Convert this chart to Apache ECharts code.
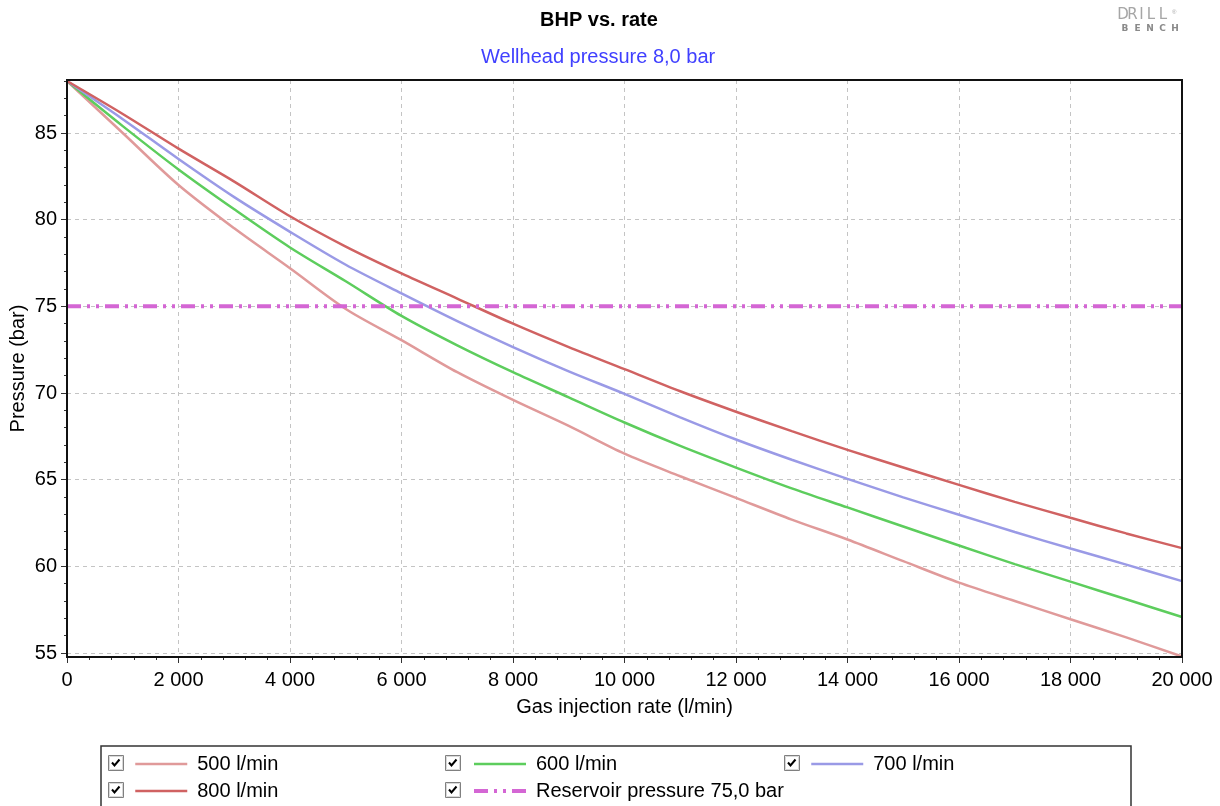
<!DOCTYPE html>
<html>
<head>
<meta charset="utf-8">
<script src="https://cdn.jsdelivr.net/npm/echarts@6/dist/echarts.min.js"></script>
<style>
html,body{margin:0;padding:0;background:#fff;}
#chart{width:1220px;height:806px;}
</style>
</head>
<body>
<div id="chart"></div>
<script>
// ---- data ----
const rates = [0,1000,2000,3000,4000,5000,6000,7000,8000,9000,10000,11000,12000,13000,14000,15000,16000,17000,18000,19000,20000];
const bhp500 = [88.0,85.0,82.0,79.5,77.2,74.85,73.05,71.2,69.6,68.1,66.5,65.2,63.95,62.7,61.55,60.3,59.06,58.0,56.95,55.9,54.8];
const bhp600 = [88.0,85.4,82.9,80.6,78.4,76.45,74.45,72.75,71.2,69.75,68.3,66.95,65.7,64.5,63.4,62.3,61.2,60.13,59.12,58.1,57.08];
const bhp700 = [88.0,85.8,83.5,81.3,79.3,77.4,75.75,74.15,72.65,71.25,69.95,68.6,67.32,66.15,65.05,63.98,62.98,61.98,61.03,60.1,59.15];
const bhp800 = [88.0,86.1,84.1,82.2,80.2,78.45,76.9,75.45,74.0,72.65,71.38,70.1,68.92,67.8,66.72,65.7,64.7,63.72,62.8,61.9,61.05];
const reservoirPressure = 75.0;
const seriesNames = ['500 l/min','600 l/min','700 l/min','800 l/min','Reservoir pressure 75,0 bar'];
const yTicks = [55,60,65,70,75,80,85];
const yMinorTicks = [55,56,57,58,59,60,61,62,63,64,65,66,67,68,69,70,71,72,73,74,75,76,77,78,79,80,81,82,83,84,85,86,87,88];
const yMin = 54.77, yMax = 88.06;
const xMin = 0, xMax = 20000, xInterval = 2000;

const FONT = '"Liberation Sans", Arial, sans-serif';
const chart = echarts.init(document.getElementById('chart'), null, {renderer:'canvas'});

function pairs(arr){ return rates.map((x,i)=>[x, arr[i]]); }
function fmtX(v){
  if (v >= 1000) return Math.floor(v/1000) + ' ' + String(v % 1000).padStart(3,'0');
  return String(v);
}

const colors = ['#e09a9a','#5dcd5d','#9a9ae6','#d06262','#d466d4'];
const reservoirDash = [14,6,3,6,3,6];

function lineSeries(name, data, color){
  return {
    name, type:'line', data: pairs(data), symbol:'none', smooth:0.3,
    lineStyle:{color, width:2.5}, itemStyle:{color}, emphasis:{disabled:true}, animation:false
  };
}

// grid frame (drawn on top of split lines)
const gridL = 67, gridT = 80, gridR = 1182, gridB = 657;
const graphics = [];
graphics.push({type:'rect', shape:{x:gridL,y:gridT,width:gridR-gridL,height:gridB-gridT}, style:{fill:'none', stroke:'#111', lineWidth:2}, z:5, silent:true});
// legend frame + checkboxes
const checkPos = [[108,755],[445,755],[784,755],[108,782],[445,782]];
graphics.push({type:'rect', shape:{x:101,y:746,width:1030,height:80}, style:{fill:'none', stroke:'#333', lineWidth:1.5}, z:10});
checkPos.forEach(([x,y])=>{
  graphics.push({type:'rect', shape:{x:x+0.5,y:y+0.5,width:15,height:15}, style:{fill:'#fff', stroke:'#808080', lineWidth:1}, z:11});
  graphics.push({type:'rect', shape:{x:x+1.5,y:y+1.5,width:13,height:13}, style:{fill:'none', stroke:'#d8d8d8', lineWidth:1}, z:11});
  graphics.push({type:'polyline', shape:{points:[[x+4,y+7.5],[x+6.5,y+10.5],[x+11.5,y+4.5]]}, style:{stroke:'#000', lineWidth:2, fill:'none'}, z:12});
});
// logo
const logoTopX = [1123,1132.5,1141.5,1151,1163];
'DRILL'.split('').forEach((c,i)=>{
  graphics.push({type:'text', x:logoTopX[i], y:8, style:{text:c, font:'15px "DejaVu Sans", sans-serif', fill:'#a6a6a6', align:'center'}});
});
graphics.push({type:'text', x:1172, y:9, style:{text:'®', font:'6px sans-serif', fill:'#a8a8a8'}});
'BENCH'.split('').forEach((c,i)=>{
  graphics.push({type:'text', x:1125+i*12.5, y:24, style:{text:c, font:'bold 9px "DejaVu Sans", sans-serif', fill:'#8a8a8a', align:'center'}});
});

const legendBase = {
  orient:'vertical', top:754, itemWidth:52, itemHeight:14, itemGap:7, padding:0,
  itemStyle:{opacity:0, borderWidth:0},
  textStyle:{fontFamily:FONT, fontSize:20, color:'#000', lineHeight:20, padding:[0,0,0,5]},
  selectedMode:false
};
function legItem(i){
  return i === 4
    ? {name:seriesNames[i], lineStyle:{width:4, color:colors[i], type:reservoirDash}}
    : {name:seriesNames[i], lineStyle:{width:2.5, color:colors[i]}};
}

const option = {
  backgroundColor:'#fff',
  animation:false,
  title:[
    {text:'BHP vs. rate', left:535, top:5, textStyle:{fontFamily:FONT, fontSize:20, fontWeight:'bold', color:'#000'}},
    {text:'Wellhead pressure 8,0 bar', left:476, top:42, textStyle:{fontFamily:FONT, fontSize:20, fontWeight:'normal', color:'#4040ff'}}
  ],
  grid:{left:gridL, right:1220-gridR, top:gridT, bottom:806-gridB, show:false, outerBoundsMode:'none', containLabel:false},
  legend:[
    Object.assign({}, legendBase, {left:134, data:[legItem(0), legItem(3)]}),
    Object.assign({}, legendBase, {left:472, data:[legItem(1), legItem(4)]}),
    Object.assign({}, legendBase, {left:810, data:[legItem(2)]})
  ],
  xAxis:{
    type:'value', min:xMin, max:xMax, interval:xInterval,
    name:'Gas injection rate (l/min)', nameLocation:'middle', nameGap:40, nameMoveOverlap:false,
    nameTextStyle:{fontFamily:FONT, fontSize:20, color:'#000'},
    axisLine:{show:true, lineStyle:{color:'#111', width:2}},
    axisTick:{show:true, length:6, lineStyle:{color:'#333', width:1}},
    minorTick:{show:true, splitNumber:5, length:3, lineStyle:{color:'#333', width:1}},
    axisLabel:{fontFamily:FONT, fontSize:20, color:'#000', margin:13, formatter:fmtX},
    splitLine:{show:true, showMinLine:false, showMaxLine:false, lineStyle:{color:'#c4c4c4', width:1, type:[4,4]}}
  },
  yAxis:[
    {
      type:'value', min:yMin, max:yMax,
      name:'Pressure (bar)', nameLocation:'middle', nameGap:39, nameRotate:90, nameMoveOverlap:false,
      nameTextStyle:{fontFamily:FONT, fontSize:20, color:'#000'},
      axisLine:{show:true, lineStyle:{color:'#111', width:2}},
      axisTick:{show:true, length:6, customValues:yTicks, lineStyle:{color:'#333', width:1}},
      axisLabel:{fontFamily:FONT, fontSize:20, color:'#000', margin:10, customValues:yTicks},
      splitLine:{show:true, lineStyle:{color:'#c4c4c4', width:1, type:[4,4]}}
    },
    {
      type:'value', min:yMin, max:yMax, position:'left', offset:0,
      axisLine:{show:false},
      axisTick:{show:true, length:3, customValues:yMinorTicks, lineStyle:{color:'#333', width:1}},
      axisLabel:{show:false},
      splitLine:{show:false}
    }
  ],
  series:[
    lineSeries(seriesNames[0], bhp500, colors[0]),
    lineSeries(seriesNames[1], bhp600, colors[1]),
    lineSeries(seriesNames[2], bhp700, colors[2]),
    lineSeries(seriesNames[3], bhp800, colors[3]),
    {
      name:seriesNames[4], type:'line', data:[[xMin, reservoirPressure],[xMax, reservoirPressure]], symbol:'none',
      lineStyle:{color:colors[4], width:4, type:reservoirDash}, itemStyle:{color:colors[4]}, emphasis:{disabled:true}
    }
  ],
  graphic:graphics
};
chart.setOption(option);
</script>
</body>
</html>
